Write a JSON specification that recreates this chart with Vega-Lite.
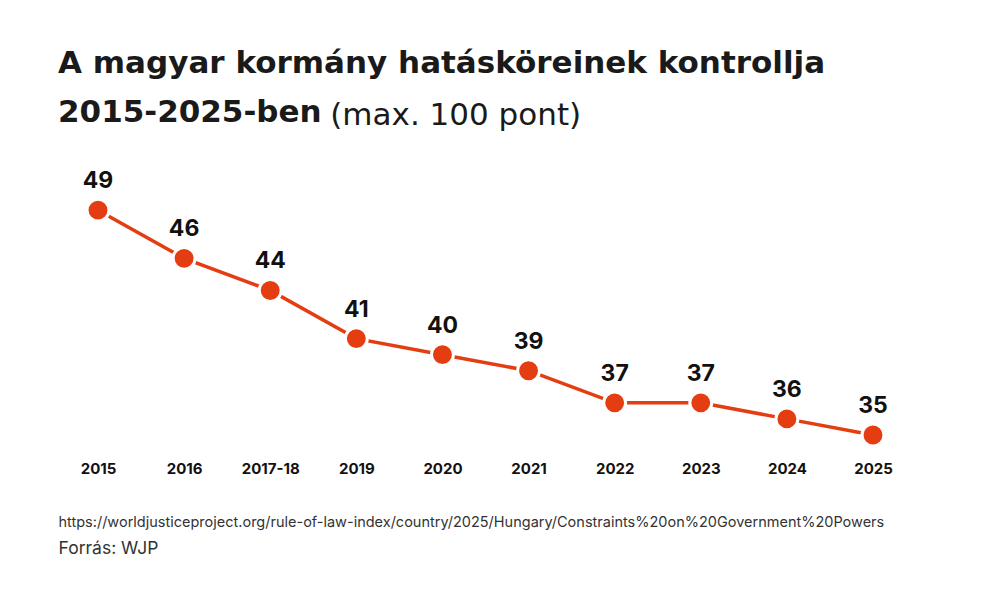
{
  "$schema": "https://vega.github.io/schema/vega-lite/v6.json",
  "width": 855,
  "height": 289,
  "padding": {"left": 58, "top": 48, "right": 20, "bottom": 10},
  "background": "white",
  "config": {"view": {"stroke": null}, "font": "Inter"},
  "title": {
    "text": ["A magyar kormány hatásköreinek kontrollja", "2015-2025-ben"],
    "subtitle": "\u200b\u00a0\u00a0\u00a0\u00a0\u00a0\u00a0\u00a0\u00a0\u00a0\u00a0\u00a0\u00a0\u00a0\u00a0\u00a0\u00a0\u00a0\u00a0\u00a0\u00a0\u00a0\u00a0\u00a0\u00a0\u00a0\u00a0\u00a0\u2009(max. 100 pont)",
    "anchor": "start",
    "frame": "group",
    "font": "DejaVu Sans",
    "fontSize": 31,
    "fontWeight": "bold",
    "color": "#1a1a1a",
    "lineHeight": 49,
    "subtitleFont": "DejaVu Sans",
    "subtitleFontSize": 31,
    "subtitleFontWeight": "normal",
    "subtitleColor": "#1a1a1a",
    "subtitleLineHeight": 49,
    "subtitlePadding": -28,
    "offset": 30
  },
  "data": {
    "values": [
      {"ev": "2015", "ertek": 49},
      {"ev": "2016", "ertek": 46},
      {"ev": "2017-18", "ertek": 44},
      {"ev": "2019", "ertek": 41},
      {"ev": "2020", "ertek": 40},
      {"ev": "2021", "ertek": 39},
      {"ev": "2022", "ertek": 37},
      {"ev": "2023", "ertek": 37},
      {"ev": "2024", "ertek": 36},
      {"ev": "2025", "ertek": 35}
    ]
  },
  "layer": [
    {
      "mark": {"type": "line", "color": "#E43D12", "strokeWidth": 3.5},
      "encoding": {
        "x": {
          "field": "ev", "type": "ordinal", "sort": null,
          "scale": {"type": "point", "padding": 0.4646},
          "axis": {
            "orient": "bottom",
            "domain": false, "ticks": false, "grid": false,
            "labelAngle": 0, "labelFont": "Inter", "labelFontSize": 15, "labelFontWeight": "bold",
            "labelColor": "#111111", "labelPadding": 10,
            "title": "https://worldjusticeproject.org/rule-of-law-index/country/2025/Hungary/Constraints%20on%20Government%20Powers",
            "titleAnchor": "start", "titleAlign": "left", "titleFont": "Inter", "titleFontSize": 14.5,
            "titleFontWeight": "normal", "titleColor": "#333333", "titlePadding": 39
          }
        },
        "y": {"field": "ertek", "type": "quantitative", "scale": {"domain": [34, 52]}, "axis": null}
      }
    },
    {
      "mark": {"type": "circle", "fill": "#E43D12", "stroke": "white", "strokeWidth": 3, "size": 480, "opacity": 1},
      "encoding": {
        "x": {
          "field": "ev", "type": "ordinal", "sort": null,
          "scale": {"type": "point", "padding": 0.4646},
          "axis": {
            "orient": "bottom",
            "domain": false, "ticks": false, "grid": false, "labels": false,
            "title": "Forrás: WJP",
            "titleAnchor": "start", "titleAlign": "left", "titleFont": "Inter", "titleFontSize": 17.5,
            "titleFontWeight": "normal", "titleColor": "#333333", "titlePadding": 88
          }
        },
        "y": {"field": "ertek", "type": "quantitative", "scale": {"domain": [34, 52]}, "axis": null}
      }
    },
    {
      "mark": {"type": "text", "dy": -22, "baseline": "alphabetic", "font": "Inter", "fontSize": 23, "fontWeight": "bold", "color": "#111111"},
      "encoding": {
        "x": {"field": "ev", "type": "ordinal", "sort": null, "scale": {"type": "point", "padding": 0.4646}, "axis": null},
        "y": {"field": "ertek", "type": "quantitative", "scale": {"domain": [34, 52]}, "axis": null},
        "text": {"field": "ertek", "type": "quantitative"}
      }
    }
  ],
  "resolve": {"axis": {"x": "independent"}}
}
